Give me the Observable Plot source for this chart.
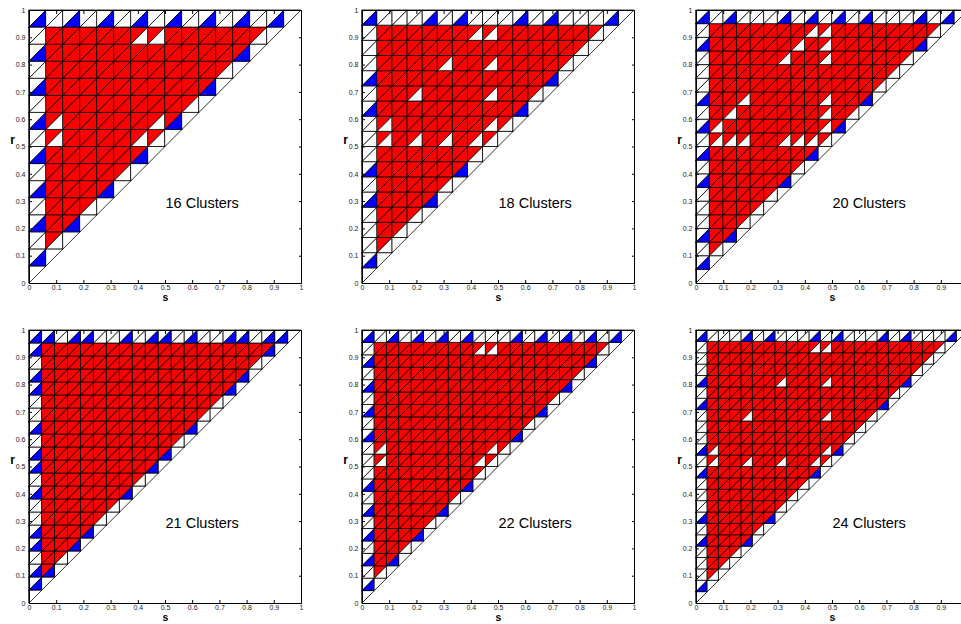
<!DOCTYPE html>
<html>
<head>
<meta charset="utf-8">
<script src="https://cdn.jsdelivr.net/npm/d3@7"></script>
<script src="https://cdn.jsdelivr.net/npm/@observablehq/plot@0.6"></script>
<style>
  html, body { margin: 0; padding: 0; background: #fff; overflow: hidden; }
  #fig { position: relative; width: 961px; height: 624px; overflow: hidden; background: #fff; }
  #fig svg { position: absolute; }
</style>
</head>
<body>
<div id="fig"></div>
<script>
// ---- data ----
const clusters = [16, 18, 20, 21, 22, 24];
const panelLabels = ["16 Clusters", "18 Clusters", "20 Clusters", "21 Clusters", "22 Clusters", "24 Clusters"];

// rows j (first column of cells) whose lower-right triangle is blue
const leftBlue = [
  [1, 3, 5, 7, 9, 11, 13, 15],
  [1, 5, 7, 11, 13, 17],
  [1, 3, 7, 9, 11, 13, 17, 19],
  [1, 2, 4, 5, 8, 10, 11, 13, 16, 17, 19, 20],
  [1, 3, 5, 7, 9, 13, 15, 17, 19, 21],
  [1, 5, 7, 11, 13, 17, 19, 23]
];
// columns i (top row of cells) whose lower-right triangle is blue
const topBlue = [
  [0, 2, 4, 6, 8, 10, 12, 14],
  [0, 4, 6, 10, 12, 16],
  [0, 2, 6, 8, 10, 12, 16, 18],
  [0, 1, 3, 4, 7, 9, 10, 12, 15, 16, 18, 19],
  [0, 2, 4, 6, 8, 12, 14, 16, 18, 20],
  [0, 4, 6, 10, 12, 16, 18, 22]
];
// columns i of the step cells (i, i+1) beside the diagonal whose lower-right triangle is blue
const stepBlue = [
  [2, 4, 6, 8, 10, 12],
  [4, 6, 10, 12],
  [2, 6, 8, 10, 12, 16],
  [1, 3, 4, 7, 9, 10, 12, 15, 16, 18],
  [2, 4, 6, 8, 12, 14, 16, 18],
  [4, 6, 10, 12, 16, 18]
];
// interior cells [i, j] whose lower-right triangle is white (holes in the red region)
const holes = [
  [[6,14],[7,14],[1,9],[1,8],[7,9],[6,8]],
  [[7,16],[8,16],[5,14],[8,14],[3,12],[8,12],[1,10],[8,10],[1,9],[3,9],[5,9],[7,9]],
  [[8,18],[9,18],[7,17],[9,17],[6,16],[9,16],[3,13],[9,13],[2,12],[9,12],[1,11],[9,11],[1,10],[2,10],[3,10],[6,10],[7,10],[8,10]],
  [],
  [[9,20],[10,20],[1,12],[10,12],[1,11],[9,11]],
  [[10,22],[11,22],[7,19],[11,19],[4,16],[11,16],[1,13],[11,13],[1,12],[4,12],[7,12],[10,12]]
];

const tickValues = [0, 0.1, 0.2, 0.3, 0.4, 0.5, 0.6, 0.7, 0.8, 0.9, 1];
const tickLabels = ["0", "0.1", "0.2", "0.3", "0.4", "0.5", "0.6", "0.7", "0.8", "0.9", "1"];

const RED = "#ff0000", BLUE = "#0000ff", WHITE = "#ffffff";

function buildTriangles(p) {
  const N = clusters[p];
  const holeSet = new Set(holes[p].map(([i, j]) => i + "," + j));
  const rows = [];
  let id = 0;
  function add(i, j, part, color) {
    const xa = i / N, xb = (i + 1) / N, ya = j / N, yb = (j + 1) / N;
    const k = id++;
    if (part === "U") {
      rows.push({id: k, x: xa, y1: ya, y2: yb, color});
      rows.push({id: k, x: xb, y1: yb, y2: yb, color});
    } else {
      rows.push({id: k, x: xa, y1: ya, y2: ya, color});
      rows.push({id: k, x: xb, y1: ya, y2: yb, color});
    }
  }
  for (let j = 0; j < N; j++) {
    for (let i = 0; i <= j; i++) {
      if (i === j) { add(i, j, "U", WHITE); continue; }
      let U, L;
      if (j === N - 1) { U = WHITE; L = topBlue[p].includes(i) ? BLUE : WHITE; }
      else if (i === 0) { U = WHITE; L = leftBlue[p].includes(j) ? BLUE : WHITE; }
      else if (j === i + 1) { U = RED; L = stepBlue[p].includes(i) ? BLUE : WHITE; }
      else { U = RED; L = holeSet.has(i + "," + j) ? WHITE : RED; }
      add(i, j, "U", U);
      add(i, j, "L", L);
    }
  }
  return rows;
}

const fmt = d => tickLabels[tickValues.indexOf(d)];
const fig = document.getElementById("fig");
const mL = 29, mR = 30, mT = 10, mB = 31, W = 272, H = 273;
const FIG_W = 961;

clusters.forEach((n, p) => {
  const tri = buildTriangles(p);
  const left = (p % 3) * 333.35;
  // x tick labels that would fall outside the photographed window are not drawn
  const xTicksShown = tickValues.filter(v => left + mL + v * W + 4 <= FIG_W);
  const svg = Plot.plot({
    width: mL + W + mR,
    height: mT + H + mB,
    marginLeft: mL, marginRight: mR, marginTop: mT, marginBottom: mB,
    x: {domain: [0, 1]},
    y: {domain: [0, 1]},
    color: {type: "identity"},
    style: {fontFamily: "'Liberation Sans', Arial, Helvetica, sans-serif", background: "transparent", overflow: "visible"},
    marks: [
      Plot.areaY(tri, {x: "x", y1: "y1", y2: "y2", z: "id", fill: "color", stroke: "#000", strokeWidth: 0.8, curve: "linear"}),
      Plot.frame({stroke: "#000", strokeWidth: 1}),
      // inward tick marks on all four sides
      Plot.axisX({ticks: tickValues, anchor: "bottom", tickSize: 3, dy: -3, tickFormat: () => "", label: null, stroke: "#000"}),
      Plot.axisX({ticks: tickValues, anchor: "top", tickSize: 3, dy: 3, tickFormat: () => "", label: null, stroke: "#000"}),
      Plot.axisY({ticks: tickValues, anchor: "left", tickSize: 3, dx: 3, tickFormat: () => "", label: null, stroke: "#000"}),
      Plot.axisY({ticks: tickValues, anchor: "right", tickSize: 3, dx: -3, tickFormat: () => "", label: null, stroke: "#000"}),
      // tick labels
      Plot.axisX({ticks: xTicksShown, anchor: "bottom", tickSize: 0, tickPadding: 2, tickFormat: fmt, label: null, fontSize: 7, fill: "#222"}),
      Plot.axisY({ticks: tickValues, anchor: "left", tickSize: 0, tickPadding: 4, tickFormat: fmt, label: null, fontSize: 7, fill: "#222"}),
      // axis titles
      Plot.text(["s"], {frameAnchor: "bottom", dy: 14.5, text: d => d, fontWeight: "bold", fontSize: 10.5, fill: "#000", lineAnchor: "middle"}),
      Plot.text(["r"], {frameAnchor: "left", dx: -17, dy: -7, text: d => d, fontWeight: "bold", fontSize: 12, fill: "#000", textAnchor: "middle"}),
      // panel label
      Plot.text([panelLabels[p]], {x: 0.5, y: 0.295, text: d => d, textAnchor: "start", fontSize: 14.5, fill: "#000"})
    ]
  });
  svg.style.left = left + "px";
  svg.style.top = (Math.floor(p / 3) * 320) + "px";
  fig.appendChild(svg);
});
</script>
</body>
</html>
